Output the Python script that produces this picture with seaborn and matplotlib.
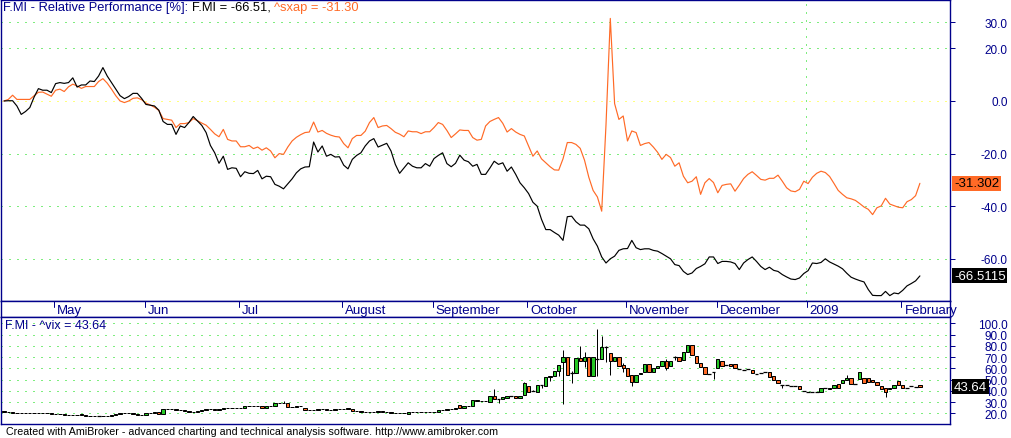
import matplotlib
matplotlib.use("Agg")
import numpy as np
import pandas as pd
import seaborn as sns
from matplotlib import pyplot as plt

W, H = 1011, 439
NAVY = "#00008b"
ORANGE = "#ff6a26"
GREEN = "#26c826"
GRID = "#00dd00"
DOT = (0, (1, 7))

# month starts, as trading-day (bar) numbers from 15 Apr 2008
month_labels = ["May", "Jun", "Jul", "August", "September", "October",
                "November", "December", "2009", "February"]
month_bars = [12, 33, 55, 79, 100, 122, 145, 166, 187, 209]
year_bar = 186.5

# relative performance [%] since 15 Apr 2008, one value per trading day
fmi_rel = [
    0.0, 0.1, 0.1, -1.9, -5.1, -4.0, -2.5, 1.5, 4.7, 4.1,
    4.1, 3.2, 6.6, 7.0, 6.7, 7.0, 8.8, 5.3, 6.1, 6.1,
    7.6, 7.4, 9.5, 12.7, 9.5, 7.0, 4.5, 2.0, 0.9, 1.7,
    2.9, 2.9, 1.0, -1.3, -1.6, -1.9, -3.5, -7.8, -8.9, -8.9,
    -12.7, -9.5, -10.1, -8.2, -5.9, -7.6, -9.3, -12.0, -16.9, -19.7,
    -23.7, -21.0, -26.0, -25.4, -25.6, -28.8, -26.9, -27.5, -27.6, -26.4,
    -29.6, -28.6, -28.8, -31.7, -32.4, -33.4, -31.5, -29.6, -27.3, -25.8,
    -25.1, -25.0, -15.6, -19.4, -17.1, -21.0, -20.3, -21.3, -21.2, -24.4,
    -25.8, -22.2, -20.7, -19.7, -17.1, -15.2, -14.3, -17.5, -16.8, -16.1,
    -19.0, -24.1, -27.5, -25.5, -23.5, -24.8, -25.4, -25.4, -23.8, -24.8,
    -21.9, -20.7, -19.7, -23.8, -25.0, -23.7, -20.6, -22.5, -23.1, -24.8,
    -24.1, -27.9, -27.9, -25.5, -22.9, -24.1, -23.5, -26.7, -25.1, -27.9,
    -31.1, -33.0, -35.2, -38.5, -40.0, -45.0, -48.9, -48.9, -50.0, -51.0,
    -53.0, -44.0, -43.8, -45.9, -47.2, -47.2, -48.6, -52.4, -55.2, -59.3,
    -61.6, -60.0, -59.0, -56.8, -56.2, -56.1, -53.0, -55.8, -56.5, -56.2,
    -56.2, -56.8, -57.1, -58.0, -59.0, -60.0, -62.2, -62.6, -64.8, -66.0,
    -65.4, -63.7, -62.9, -61.9, -59.3, -59.3, -61.8, -61.0, -61.0, -61.2,
    -61.8, -64.1, -61.6, -60.3, -59.3, -61.0, -62.9, -64.1, -63.2, -64.4,
    -64.8, -66.0, -66.9, -67.7, -67.9, -67.3, -65.6, -64.5, -61.6, -61.8,
    -61.4, -60.0, -61.2, -62.0, -62.8, -63.8, -65.5, -67.0, -67.7, -68.3,
    -68.8, -71.7, -73.9, -74.0, -74.0, -72.4, -74.0, -73.0, -73.3, -72.0,
    -70.3, -69.4, -68.4, -66.5115,
]
sxap_rel = [
    0.0, 0.6, 2.2, 0.6, 0.6, 0.6, 0.6, 2.0, 3.3, 3.4,
    2.6, 1.8, 4.1, 4.5, 3.6, 5.4, 6.4, 5.7, 4.8, 5.5,
    5.5, 5.5, 7.4, 8.5, 6.8, 4.5, 2.0, 0.0, -0.6, 0.0,
    1.0, 1.2, 0.5, -0.8, -1.5, -2.4, -3.6, -6.7, -7.0, -7.3,
    -10.1, -8.6, -8.6, -8.2, -6.7, -7.5, -8.4, -9.2, -10.8, -12.5,
    -13.6, -10.8, -14.6, -15.2, -15.2, -17.4, -17.4, -16.9, -18.1, -17.5,
    -18.7, -17.8, -19.0, -21.6, -20.0, -20.3, -17.5, -15.2, -13.8, -12.8,
    -12.0, -11.8, -8.0, -11.8, -11.2, -12.3, -13.0, -13.5, -13.7, -16.2,
    -17.8, -14.3, -13.1, -13.1, -11.5, -8.2, -6.3, -10.1, -9.5, -9.3,
    -10.5, -11.9, -12.6, -13.6, -11.4, -11.7, -11.7, -12.4, -11.7, -11.7,
    -10.1, -8.2, -8.9, -11.2, -13.9, -12.5, -11.0, -11.2, -11.2, -13.9,
    -14.9, -14.6, -9.5, -7.8, -7.0, -6.3, -8.5, -11.8, -10.5, -11.8,
    -12.7, -13.3, -17.1, -21.0, -19.0, -22.0, -23.5, -25.0, -26.2, -26.3,
    -22.0, -15.8, -15.8, -16.5, -18.0, -22.5, -29.0, -34.0, -36.5, -41.9,
    -9.0, 31.4, -1.0, -7.0, -5.7, -15.2, -11.4, -12.0, -16.9, -16.2,
    -15.8, -17.5, -19.5, -22.2, -20.3, -21.5, -24.8, -23.5, -28.6, -31.1,
    -30.5, -28.8, -35.5, -31.1, -29.5, -31.0, -34.9, -32.1, -31.7, -31.5,
    -34.3, -32.0, -29.5, -27.9, -26.9, -28.3, -29.8, -30.1, -29.4, -29.4,
    -28.2, -30.5, -33.0, -34.2, -34.5, -33.6, -30.5, -31.4, -29.0, -27.5,
    -26.7, -27.2, -28.7, -31.3, -34.0, -35.5, -36.8, -37.2, -37.8, -39.0,
    -40.3, -41.2, -43.2, -40.6, -39.9, -37.0, -39.2, -39.8, -40.4, -40.6,
    -38.3, -37.5, -36.0, -31.302,
]

# ^vix daily candles
vix_open = [
    22.0, 21.2, 20.8, 20.6, 20.4, 20.5, 20.3, 20.6, 20.4, 20.2,
    20.3, 20.0, 19.4, 19.3, 19.0, 18.8, 18.9, 18.6, 19.3, 18.3,
    17.9, 18.0, 17.3, 17.4, 17.2, 17.8, 18.6, 19.4, 20.0, 20.1,
    20.2, 19.6, 18.8, 18.6, 20.2, 20.4, 21.2, 19.1, 23.6, 23.4,
    23.5, 23.3, 23.0, 22.3, 21.4, 21.6, 22.4, 22.5, 23.6, 23.4,
    23.1, 23.4, 24.6, 24.8, 24.9, 24.7, 24.8, 26.3, 26.6, 26.5,
    26.7, 24.3, 26.5, 26.8, 28.8, 29.2, 29.5, 25.8, 26.0, 26.8,
    25.0, 22.8, 22.6, 23.2, 23.5, 24.2, 23.0, 23.2, 23.7, 24.1,
    24.5, 24.0, 22.2, 21.8, 21.4, 21.5, 21.4, 21.6, 22.2, 21.0,
    20.9, 20.6, 20.3, 20.4, 19.6, 21.2, 21.0, 21.2, 21.1, 21.0,
    21.3, 21.2, 22.5, 23.0, 24.2, 24.0, 27.0, 25.0, 26.3, 26.3,
    31.4, 31.0, 31.2, 30.3, 35.7, 32.7, 32.4, 33.9, 35.5, 35.1,
    33.3, 36.5, 44.0, 40.1, 39.2, 45.4, 44.5, 52.0, 53.4, 57.3,
    65.3, 69.8, 55.8, 55.6, 68.9, 66.8, 69.8, 52.9, 68.3, 68.3,
    78.7, 73.6, 66.8, 69.8, 62.9, 60.0, 54.0, 47.6, 54.5, 56.4,
    63.8, 56.4, 60.0, 61.8, 66.2, 62.3, 69.8, 69.8, 67.6, 74.2,
    80.7, 70.7, 64.7, 60.9, 55.0, 56.5, 60.0, 66.8, 63.0, 63.9,
    63.9, 59.4, 58.8, 59.0, 58.8, 55.0, 55.8, 56.5, 56.5, 52.9,
    49.9, 45.1, 45.1, 44.5, 43.9, 43.9, 39.4, 39.1, 39.1, 39.3,
    39.1, 42.6, 41.5, 42.6, 46.0, 46.6, 49.9, 51.1, 46.0, 50.6,
    51.1, 51.1, 49.9, 47.5, 44.5, 42.2, 41.5, 42.9, 49.0, 45.4,
    42.9, 43.9, 43.6, 45.4,
]
vix_close = [
    21.2, 20.8, 20.6, 20.4, 20.5, 20.3, 20.6, 20.4, 20.2, 20.3,
    20.0, 19.4, 19.3, 19.0, 18.8, 18.9, 18.6, 18.8, 18.3, 17.9,
    17.8, 17.3, 17.3, 17.2, 17.8, 18.6, 19.4, 20.0, 20.1, 20.2,
    19.6, 18.8, 18.6, 20.2, 20.4, 20.8, 19.4, 23.6, 23.4, 23.5,
    23.3, 22.9, 22.3, 21.4, 21.6, 22.2, 22.6, 23.6, 23.4, 23.1,
    23.5, 24.6, 24.8, 24.9, 24.7, 25.1, 26.3, 26.6, 26.5, 26.7,
    24.5, 26.5, 26.6, 28.8, 29.2, 29.5, 25.8, 26.0, 26.8, 26.4,
    22.8, 22.6, 23.2, 23.5, 23.6, 23.0, 23.2, 23.7, 24.1, 24.2,
    24.0, 22.2, 21.8, 21.4, 21.5, 21.4, 21.6, 22.0, 21.0, 20.9,
    20.6, 20.3, 20.4, 20.1, 21.2, 21.0, 21.2, 21.1, 21.0, 21.3,
    21.5, 22.5, 22.6, 24.2, 24.0, 24.4, 25.0, 26.3, 26.5, 31.4,
    31.0, 31.2, 31.0, 35.7, 32.7, 32.7, 34.2, 35.7, 35.5, 33.3,
    35.1, 46.7, 39.2, 40.1, 45.4, 45.4, 52.0, 53.4, 57.3, 63.2,
    69.8, 54.3, 55.8, 68.9, 66.8, 69.8, 52.9, 69.8, 68.3, 78.7,
    78.7, 66.8, 69.8, 62.3, 60.0, 53.4, 47.6, 54.0, 55.5, 63.8,
    56.4, 60.0, 61.8, 66.2, 60.0, 66.2, 69.8, 66.8, 74.2, 80.7,
    72.1, 64.4, 60.9, 55.0, 55.0, 56.5, 68.3, 62.4, 63.0, 61.8,
    60.0, 59.4, 58.8, 59.0, 55.8, 55.0, 55.8, 56.5, 52.0, 49.9,
    46.6, 45.1, 45.1, 44.5, 43.9, 41.5, 39.4, 39.1, 39.1, 39.3,
    42.9, 42.6, 42.9, 45.1, 42.9, 49.9, 51.1, 46.0, 46.0, 56.5,
    46.9, 47.5, 47.5, 45.1, 41.5, 39.1, 42.9, 45.1, 45.1, 42.9,
    42.9, 43.9, 43.6, 43.64,
]
# shadows that reach past the body
vix_high_wicks = {65: 30.8, 114: 41.6, 121: 47.5, 123: 41.0, 130: 76.3,
                  132: 57.9, 134: 79.6, 135: 74.2, 138: 94.9, 139: 89.0,
                  140: 80.1, 144: 64.5, 154: 68.0, 156: 70.5, 196: 54.0}
vix_low_wicks = {115: 28.9, 125: 42.2, 127: 48.4, 129: 53.4, 130: 28.3,
                 132: 46.9, 135: 60.9, 138: 52.9, 140: 65.9, 141: 54.3,
                 144: 57.0, 146: 44.5, 154: 58.5, 156: 67.0, 165: 50.6,
                 181: 42.2, 205: 34.2}

top_ticks = [30, 20, 0, -20, -40, -60]
low_ticks = [100, 90, 80, 70, 60, 50, 40, 30, 20]


def px_rect(x0, y0, x1, y1):
    return [x0 / W, 1 - y1 / H, (x1 - x0) / W, (y1 - y0) / H]


def frame(ax):
    for sp in ax.spines.values():
        sp.set_color(NAVY)
        sp.set_linewidth(1.0)
    ax.set_xlabel("")
    ax.set_ylabel("")
    ax.set_xticks([])


def right_axis(ax, ticks):
    ax.yaxis.tick_right()
    ax.set_yticks(ticks)
    ax.set_yticklabels([f"{t:.1f}" for t in ticks])
    ax.tick_params(axis="y", length=3.6, width=0.72, colors=NAVY,
                   labelsize=8.5, pad=38)
    for lab in ax.get_yticklabels():
        lab.set_horizontalalignment("right")


def last_box(ax, text, value, fc, tc):
    ax.annotate(text, xy=(1, value), xycoords=("axes fraction", "data"),
                xytext=(4, 0), textcoords="offset pixels", ha="left",
                va="center", fontsize=9.5, color=tc,
                bbox=dict(boxstyle="square,pad=0.12", ec="none", fc=fc),
                annotation_clip=False)


sns.set_style("white")
plt.rcParams["font.family"] = ["Liberation Sans", "DejaVu Sans"]

fig = plt.figure(figsize=(W / 100, H / 100), dpi=100)
fig.patch.set_facecolor("white")
ax_top = fig.add_axes(px_rect(1, 1, 950, 302))
ax_date = fig.add_axes(px_rect(1, 302, 950, 318))
ax_low = fig.add_axes(px_rect(1, 318, 950, 425))

n = len(fmi_rel)
rel = pd.DataFrame({"bar": np.arange(n), "fmi": fmi_rel, "sxap": sxap_rel})
x_lim = (-0.7, 220.0)

# upper pane: relative performance
for v in top_ticks:
    ax_top.axhline(v, color="#ffff00" if v == 0 else GRID, lw=0.72, ls=DOT, zorder=0)
ax_top.axvline(year_bar, color=GRID, lw=0.72, ls=DOT, zorder=0)
sns.lineplot(data=rel, x="bar", y="sxap", color=ORANGE, linewidth=0.85,
             estimator=None, ax=ax_top)
sns.lineplot(data=rel, x="bar", y="fmi", color="black", linewidth=0.85,
             estimator=None, ax=ax_top)
ax_top.set_xlim(*x_lim)
ax_top.set_ylim(-76.05, 38.4)
frame(ax_top)
right_axis(ax_top, top_ticks)

last_box(ax_top, f"{sxap_rel[-1]:.3f}", sxap_rel[-1], ORANGE, "black")
last_box(ax_top, f"{fmi_rel[-1]:.4f}", fmi_rel[-1], "black", "white")

t1 = fig.text(3 / W, 1 - 1.5 / H, "F.MI - Relative Performance [%]: ",
              color=NAVY, va="top", fontsize=9.3)
t2 = ax_top.annotate(f"F.MI = {fmi_rel[-1]:.2f}, ", xy=(1, 0), xycoords=t1,
                     va="bottom", ha="left", color="black", fontsize=9.3)
ax_top.annotate(f"^sxap = {sxap_rel[-1]:.2f}", xy=(1, 0), xycoords=t2,
                va="bottom", ha="left", color=ORANGE, fontsize=9.3)

# date strip
ax_date.set_xlim(*x_lim)
ax_date.set_ylim(0, 1)
frame(ax_date)
ax_date.set_yticks([])
for lab, b in zip(month_labels, month_bars):
    ax_date.plot([b - 0.3, b - 0.3], [1, 0.6], color=NAVY, lw=0.72)
    ax_date.annotate(lab, xy=(b - 0.3, 0.45), xytext=(3, 0),
                     textcoords="offset pixels", va="center", ha="left",
                     color=NAVY, fontsize=9.5, annotation_clip=False)

# lower pane: ^vix candles
o = np.array(vix_open)
c = np.array(vix_close)
bars = np.arange(len(o))
hi = np.maximum(o, c)
lo = np.minimum(o, c)
for b, v in vix_high_wicks.items():
    hi[b] = v
for b, v in vix_low_wicks.items():
    lo[b] = v

for v in low_ticks:
    ax_low.axhline(v, color=GRID, lw=0.72, ls=DOT, zorder=0)
ax_low.vlines(bars, lo, hi, color="black", lw=0.72, zorder=2)
up = c > o
down = c < o
flat = c == o
ax_low.bar(bars[up], (c - o)[up], bottom=o[up], width=0.75, color=GREEN,
           edgecolor="black", linewidth=0.72, zorder=3)
ax_low.bar(bars[down], (o - c)[down], bottom=c[down], width=0.75, color=ORANGE,
           edgecolor="black", linewidth=0.72, zorder=3)
ax_low.hlines(c[flat], bars[flat] - 0.45, bars[flat] + 0.45, color="black",
              lw=0.9, zorder=3)
ax_low.set_xlim(*x_lim)
ax_low.set_ylim(10.49, 105.6)
frame(ax_low)
right_axis(ax_low, low_ticks)
last_box(ax_low, f"{vix_close[-1]:.2f}", vix_close[-1], "black", "white")
fig.text(5 / W, 1 - 320.5 / H, f"F.MI - ^vix = {vix_close[-1]:.2f}",
         color=NAVY, va="top", fontsize=9)

fig.text(6 / W, 1 - 432.5 / H,
         "Created with AmiBroker - advanced charting and technical analysis "
         "software. http://www.amibroker.com",
         color="black", va="center", fontsize=7.7)

fig.savefig("out.png", dpi=100, facecolor="white")
